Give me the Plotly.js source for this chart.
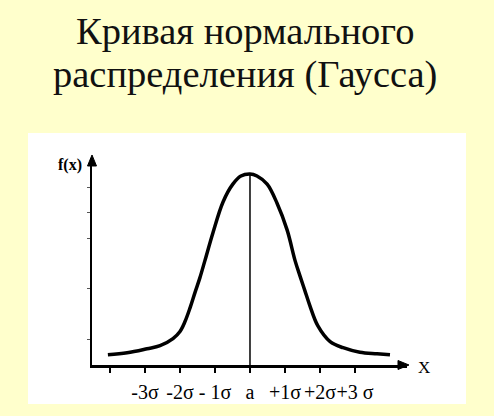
<!DOCTYPE html>
<html>
<head>
<meta charset="utf-8">
<script src="https://cdn.plot.ly/plotly-3.0.1.min.js"></script>
<style>html,body{margin:0;padding:0;background:#FFFFCC;}#chart{width:494px;height:416px;}</style>
</head>
<body>
<div id="chart"></div>
<script>
// Title lines
const titleLines = ["Кривая нормального", "распределения (Гаусса)"];

// Curve: x in units of sigma (a = 0), y = f(x)
const curveX = [-4.06, -3.51, -2.94, -2.57, -2.20, -2.00, -1.86, -1.71, -1.57, -1.43, -1.29, -1.06, -0.77, -0.49, -0.26, 0.00,
                0.20, 0.49, 0.77, 1.06, 1.29, 1.43, 1.57, 1.71, 1.94, 2.29, 2.66, 3.14, 3.63, 4.00];
const curveY = [0.020, 0.024, 0.032, 0.038, 0.052, 0.066, 0.085, 0.113, 0.143, 0.172, 0.205, 0.260, 0.321, 0.356, 0.372, 0.376,
                0.372, 0.356, 0.319, 0.266, 0.205, 0.175, 0.146, 0.117, 0.077, 0.046, 0.034, 0.025, 0.022, 0.020];

// Axis ticks
const xTickVals = [-4, -3, -2, -1, 0, 1, 2, 3];
const xTickText = ["", "-3σ", "-2σ", "- 1σ", "a", "+1σ", "+2σ", "+3 σ"];
const yTickVals = [0.05, 0.15, 0.25, 0.30, 0.35];

const peakIdx = curveY.indexOf(Math.max(...curveY));

const serif = "Liberation Serif, Times New Roman, serif";

const traces = [
  {
    x: [curveX[peakIdx], curveX[peakIdx]],
    y: [0, curveY[peakIdx]],
    mode: "lines",
    line: {color: "#000", width: 1.5},
    hoverinfo: "skip",
    showlegend: false
  },
  {
    x: curveX,
    y: curveY,
    mode: "lines",
    line: {color: "#000", width: 3.5, shape: "spline", smoothing: 1},
    showlegend: false
  }
];

const layout = {
  width: 494,
  height: 416,
  margin: {l: 92, r: 87, t: 158, b: 51},
  paper_bgcolor: "#FFFFCC",
  plot_bgcolor: "#FFFFFF",
  showlegend: false,
  xaxis: {
    range: [-4.514, 4.486],
    showgrid: false,
    zeroline: false,
    showline: true,
    linecolor: "#000",
    linewidth: 2.5,
    ticks: "outside",
    ticklen: 5,
    tickwidth: 1.5,
    tickcolor: "#000",
    tickvals: xTickVals,
    ticktext: xTickText,
    tickangle: 0,
    ticklabelstandoff: 2,
    tickfont: {family: serif, size: 20, color: "#000"}
  },
  yaxis: {
    range: [0, 0.4075],
    showgrid: false,
    zeroline: false,
    showline: true,
    linecolor: "#000",
    linewidth: 2.5,
    ticks: "outside",
    ticklen: 3,
    tickwidth: 1,
    tickcolor: "#555",
    tickvals: yTickVals,
    showticklabels: false
  },
  shapes: [
    {type: "rect", xref: "paper", yref: "paper", x0: -0.2032, x1: 1.1873, y0: -0.1884, y1: 1.1208,
     fillcolor: "#FFFFFF", line: {width: 0}, layer: "below"},
    // arrowhead on the y axis
    {type: "path", xref: "paper", yref: "paper",
     path: "M 0 1.0145 L -0.0143 0.9614 L 0.0143 0.9614 Z",
     fillcolor: "#000", line: {color: "#000", width: 1}},
    // arrowhead on the x axis
    {type: "path", xref: "paper", yref: "paper",
     path: "M 1.0063 0 L 0.9714 0.0217 L 0.9714 -0.0217 Z",
     fillcolor: "#000", line: {color: "#000", width: 1}}
  ],
  annotations: [
    {xref: "paper", yref: "paper", x: 0.4857, y: 1.613, xanchor: "center", yanchor: "middle",
     text: titleLines[0], showarrow: false, font: {family: serif, size: 38.5, color: "#111"}},
    {xref: "paper", yref: "paper", x: 0.4857, y: 1.403, xanchor: "center", yanchor: "middle",
     text: titleLines[1], showarrow: false, font: {family: serif, size: 38.5, color: "#111"}},
    {xref: "paper", yref: "paper", x: -0.0698, y: 0.966, xanchor: "center", yanchor: "middle",
     text: "<b>f(x)</b>", showarrow: false, font: {family: serif, size: 16, color: "#000"}},
    {xref: "paper", yref: "paper", x: 1.054, y: -0.0097, xanchor: "center", yanchor: "middle",
     text: "X", showarrow: false, font: {family: serif, size: 17, color: "#000"}}
  ]
};

Plotly.newPlot("chart", traces, layout, {displayModeBar: false, staticPlot: true});
</script>
</body>
</html>
